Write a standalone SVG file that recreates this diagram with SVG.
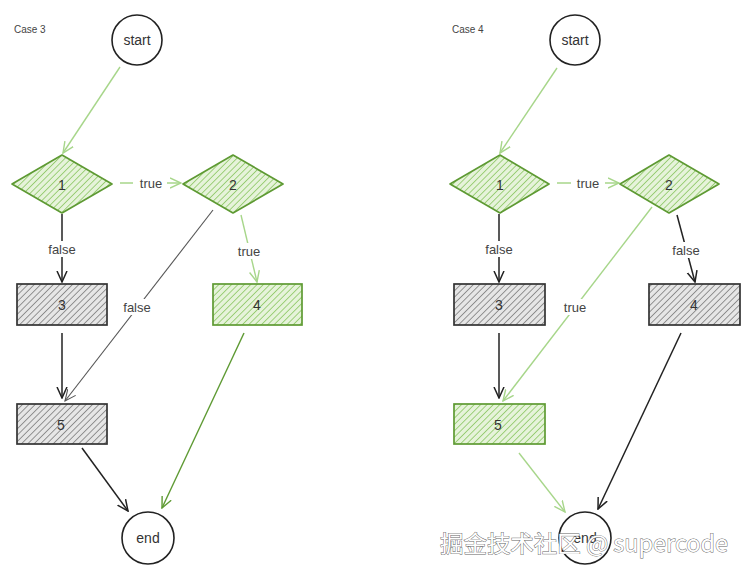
<svg xmlns="http://www.w3.org/2000/svg" width="746" height="573" viewBox="0 0 746 573">
<style>
.t{font-family:"Liberation Sans","DejaVu Sans",sans-serif;font-size:14px;fill:#333;text-anchor:middle;dominant-baseline:central}
.lbl{font-family:"Liberation Sans","DejaVu Sans",sans-serif;font-size:13px;fill:#444;text-anchor:middle;dominant-baseline:central}
.case{font-family:"Liberation Sans","DejaVu Sans",sans-serif;font-size:10px;fill:#444}
.circ{fill:#fff;stroke:#222;stroke-width:1.6}
.gdia{fill:url(#hg);stroke:#5e9a33;stroke-width:1.7;stroke-linejoin:round}
.gbox{fill:url(#hg);stroke:#5e9a33;stroke-width:1.7}
.kbox{fill:url(#hk);stroke:#333;stroke-width:1.7}
.dk{stroke:#222;stroke-width:1.5;fill:none;marker-end:url(#ak)}
.lg{stroke:#a7d68a;stroke-width:1.4;fill:none;marker-end:url(#alg)}
.dg{stroke:#5e9a33;stroke-width:1.4;fill:none;marker-end:url(#adg)}
.gy{stroke:#555;stroke-width:1.1;fill:none;marker-end:url(#agy)}
.wm{font-family:"Noto Sans CJK SC","DejaVu Sans",sans-serif;font-size:23px;fill:#fff;stroke:#666;stroke-width:0.9;paint-order:stroke}
</style>
<defs>
<pattern id="hg" width="4.5" height="4.5" patternUnits="userSpaceOnUse" patternTransform="rotate(45)">
<rect width="4.5" height="4.5" fill="#e6f3da"/><line x1="0" y1="0" x2="0" y2="4.5" stroke="#8cc764" stroke-width="1.6"/>
</pattern>
<pattern id="hk" width="4.5" height="4.5" patternUnits="userSpaceOnUse" patternTransform="rotate(45)">
<rect width="4.5" height="4.5" fill="#e6e6e6"/><line x1="0" y1="0" x2="0" y2="4.5" stroke="#666" stroke-width="1.3"/>
</pattern>
<marker id="ak" viewBox="0 0 12 12" refX="11" refY="6" markerWidth="12" markerHeight="12" orient="auto" markerUnits="userSpaceOnUse"><path d="M0,1 L11,6 L0,11" fill="none" stroke="#222" stroke-width="1.5"/></marker>
<marker id="alg" viewBox="0 0 12 12" refX="11" refY="6" markerWidth="12" markerHeight="12" orient="auto" markerUnits="userSpaceOnUse"><path d="M0,1 L11,6 L0,11" fill="none" stroke="#a7d68a" stroke-width="1.4"/></marker>
<marker id="adg" viewBox="0 0 12 12" refX="11" refY="6" markerWidth="12" markerHeight="12" orient="auto" markerUnits="userSpaceOnUse"><path d="M0,1 L11,6 L0,11" fill="none" stroke="#5e9a33" stroke-width="1.4"/></marker>
<marker id="agy" viewBox="0 0 12 12" refX="11" refY="6" markerWidth="12" markerHeight="12" orient="auto" markerUnits="userSpaceOnUse"><path d="M0,1 L11,6 L0,11" fill="none" stroke="#555" stroke-width="1.1"/></marker>
</defs>
<rect width="746" height="573" fill="#fff"/>
<text class="case" x="14" y="33">Case 3</text>
<text class="case" x="452" y="33">Case 4</text>

<g id="connectors">
<!-- case 3 -->
<line class="lg" x1="120" y1="67" x2="63" y2="153"/>
<line class="lg" x1="120" y1="183" x2="181" y2="183"/>
<line class="dk" x1="62" y1="214" x2="62" y2="282"/>
<line class="gy" x1="213" y1="210" x2="65" y2="401"/>
<line class="lg" x1="241" y1="215" x2="257" y2="282"/>
<line class="dk" x1="62" y1="333" x2="62" y2="398"/>
<line class="dk" x1="82" y1="448" x2="128" y2="511"/>
<line class="dg" x1="244" y1="333" x2="162" y2="508"/>
<!-- case 4 -->
<line class="lg" x1="557" y1="68" x2="500" y2="153"/>
<line class="lg" x1="557" y1="183" x2="619" y2="183"/>
<line class="dk" x1="499" y1="214" x2="499" y2="282"/>
<line class="lg" x1="652" y1="207" x2="503" y2="401"/>
<line class="dk" x1="677" y1="215" x2="695" y2="282"/>
<line class="dk" x1="499" y1="333" x2="499" y2="398"/>
<line class="lg" x1="519" y1="453" x2="565" y2="512"/>
<line class="dk" x1="681" y1="333" x2="598" y2="509"/>
</g>
<g id="edge-labels">
<rect x="133" y="176" width="34" height="16" fill="#fff"/><text class="lbl" x="151" y="183">true</text>
<rect x="42" y="241" width="40" height="16" fill="#fff"/><text class="lbl" x="62" y="249">false</text>
<rect x="117" y="299" width="40" height="16" fill="#fff"/><text class="lbl" x="137" y="307">false</text>
<rect x="232" y="243" width="34" height="16" fill="#fff"/><text class="lbl" x="249" y="251">true</text>
<rect x="571" y="176" width="34" height="16" fill="#fff"/><text class="lbl" x="588" y="183">true</text>
<rect x="479" y="241" width="40" height="16" fill="#fff"/><text class="lbl" x="499" y="249">false</text>
<rect x="558" y="299" width="34" height="16" fill="#fff"/><text class="lbl" x="575" y="307">true</text>
<rect x="666" y="242" width="40" height="16" fill="#fff"/><text class="lbl" x="686" y="250">false</text>
</g>

<g id="c3-start"><circle class="circ" cx="137" cy="40" r="25"/><text class="t" x="137" y="40" font-size="16">start</text></g>
<g id="c3-n1"><polygon class="gdia" points="62,155 112,184 62,213 12,184"/><text class="t" x="62" y="185">1</text></g>
<g id="c3-n2"><polygon class="gdia" points="233,155 283,184 233,213 183,184"/><text class="t" x="233" y="185">2</text></g>
<g id="c3-n3"><rect class="kbox" x="17" y="284" width="90" height="41"/><text class="t" x="62" y="305">3</text></g>
<g id="c3-n4"><rect class="gbox" x="213" y="284" width="89" height="41"/><text class="t" x="257" y="305">4</text></g>
<g id="c3-n5"><rect class="kbox" x="17" y="404" width="90" height="40"/><text class="t" x="61" y="425">5</text></g>
<g id="c3-end"><circle class="circ" cx="148" cy="538" r="26"/><text class="t" x="148" y="538">end</text></g>

<g id="c4-start"><circle class="circ" cx="575" cy="40" r="25"/><text class="t" x="575" y="40" font-size="16">start</text></g>
<g id="c4-n1"><polygon class="gdia" points="500,155 549,184 500,213 450,184"/><text class="t" x="500" y="185">1</text></g>
<g id="c4-n2"><polygon class="gdia" points="669,155 719,184 669,213 620,184"/><text class="t" x="669" y="185">2</text></g>
<g id="c4-n3"><rect class="kbox" x="454" y="284" width="91" height="41"/><text class="t" x="499" y="305">3</text></g>
<g id="c4-n4"><rect class="kbox" x="649" y="284" width="91" height="41"/><text class="t" x="694" y="305">4</text></g>
<g id="c4-n5"><rect class="gbox" x="454" y="404" width="91" height="40"/><text class="t" x="498" y="425">5</text></g>
<g id="c4-end"><circle class="circ" cx="585" cy="538" r="26"/><text class="t" x="585" y="538">end</text></g>

<text class="wm" x="440" y="552" textLength="288" lengthAdjust="spacingAndGlyphs">掘金技术社区 @ supercode</text>
</svg>
